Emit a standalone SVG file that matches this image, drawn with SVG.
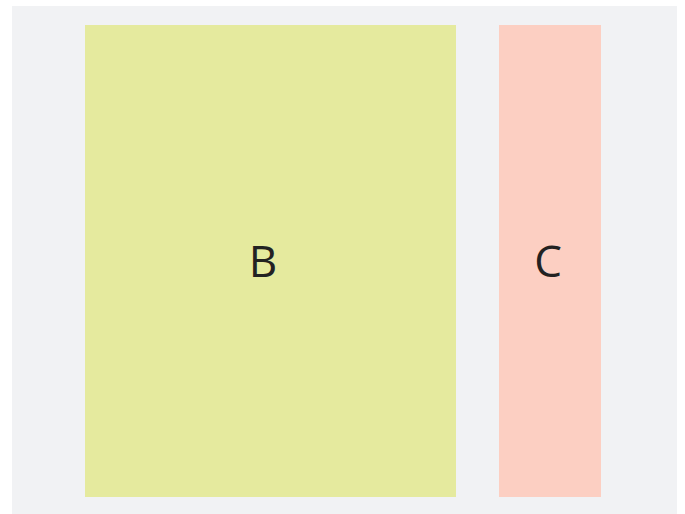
<svg xmlns="http://www.w3.org/2000/svg" width="685" height="514" viewBox="0 0 685 514">
<style>
.lbl{font-family:"Open Sans","Noto Sans",sans-serif;font-size:44px;fill:#222222;text-anchor:middle}
</style>
<rect x="0" y="0" width="685" height="514" fill="#ffffff"/>
<rect x="12" y="6" width="665" height="508" fill="#f1f2f4"/>
<g id="B">
<rect x="85" y="25" width="371" height="472" fill="#e5ea9e"/>
<text class="lbl" x="263" y="277">B</text>
</g>
<g id="C">
<rect x="499" y="25" width="102" height="472" fill="#fccfc2"/>
<text class="lbl" x="548" y="277">C</text>
</g>
<g id="connectors"/>
</svg>
